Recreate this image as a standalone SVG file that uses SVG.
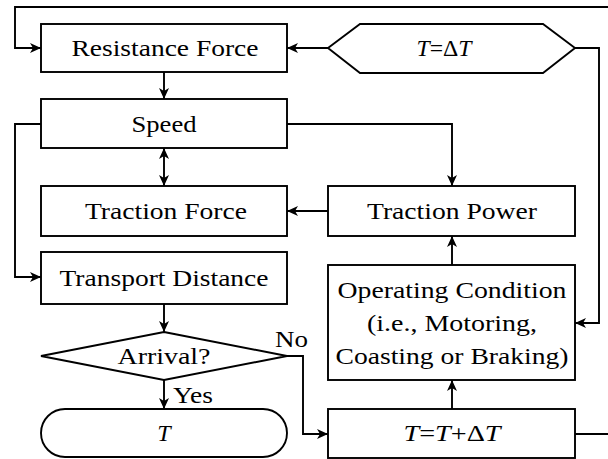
<svg xmlns="http://www.w3.org/2000/svg" width="608" height="459" viewBox="0 0 608 459">
  <defs>
    <marker id="arrow" markerUnits="userSpaceOnUse" markerWidth="14" markerHeight="12" refX="11" refY="5" orient="auto-start-reverse" overflow="visible">
      <path d="M0,0 L11,5 L0,10 L3,5 Z" fill="#000"/>
    </marker>
  </defs>
  <style>
    .box { fill: #fff; stroke: #000; stroke-width: 1.9; }
    .wire { fill: none; stroke: #000; stroke-width: 1.9; }
    .arr { marker-end: url(#arrow); }
    .it { font-style: italic; }
  </style>
  <rect width="608" height="459" fill="#fff"/>

  <g font-family="Liberation Serif, Times New Roman, serif" font-size="24" text-anchor="middle" fill="#000">

  <!-- connectors -->
  <g id="connectors">
    <!-- outer loop back to Resistance Force -->
    <polyline class="wire arr" points="608,7 15,7 15,48 41,48"/>
    <!-- T=ΔT into Resistance Force -->
    <line class="wire arr" x1="328" y1="48" x2="287" y2="48"/>
    <!-- T=ΔT into Operating Condition -->
    <polyline class="wire arr" points="575,48 599,48 599,323 575,323"/>
    <!-- Resistance Force to Speed -->
    <line class="wire arr" x1="164" y1="72" x2="164" y2="99"/>
    <!-- Speed to Traction Power -->
    <polyline class="wire arr" points="287,124 452,124 452,186"/>
    <!-- Speed to Transport Distance -->
    <polyline class="wire arr" points="41,124 15,124 15,277 41,277"/>
    <!-- Speed <-> Traction Force -->
    <line class="wire arr" x1="164" y1="148" x2="164" y2="186" style="marker-start:url(#arrow)"/>
    <!-- Traction Power to Traction Force -->
    <line class="wire arr" x1="328" y1="211" x2="287" y2="211"/>
    <!-- Operating Condition to Traction Power -->
    <line class="wire arr" x1="452" y1="265" x2="452" y2="236"/>
    <!-- T=T+ΔT to Operating Condition -->
    <line class="wire arr" x1="452" y1="409" x2="452" y2="380"/>
    <!-- Transport Distance to Arrival? -->
    <line class="wire arr" x1="164" y1="304" x2="164" y2="332"/>
    <!-- Yes branch -->
    <line class="wire arr" x1="164" y1="380" x2="164" y2="409"/>
    <!-- No branch -->
    <polyline class="wire arr" points="287,356 303,356 303,434 328,434"/>
    <!-- T=T+ΔT continues the loop -->
    <line class="wire" x1="575" y1="434" x2="608" y2="434"/>
    <text text-anchor="start" x="173" y="403" textLength="40" lengthAdjust="spacingAndGlyphs">Yes</text>
    <text text-anchor="start" x="275" y="347" textLength="33" lengthAdjust="spacingAndGlyphs">No</text>
  </g>

  <g id="resistance-force">
    <rect class="box" x="41" y="24" width="246" height="48"/>
    <text x="165" y="56" textLength="187" lengthAdjust="spacingAndGlyphs">Resistance Force</text>
  </g>

  <g id="t-init">
    <polygon class="box" points="328,48 360,24 543,24 575,48 543,73 360,73"/>
    <text x="444" y="56" textLength="55" lengthAdjust="spacingAndGlyphs"><tspan class="it">T</tspan>=Δ<tspan class="it">T</tspan></text>
  </g>

  <g id="speed">
    <rect class="box" x="41" y="99" width="246" height="49"/>
    <text x="164" y="132" textLength="65" lengthAdjust="spacingAndGlyphs">Speed</text>
  </g>

  <g id="traction-force">
    <rect class="box" x="41" y="186" width="246" height="50"/>
    <text x="166" y="219" textLength="162" lengthAdjust="spacingAndGlyphs">Traction Force</text>
  </g>

  <g id="traction-power">
    <rect class="box" x="328" y="186" width="247" height="50"/>
    <text x="452" y="219" textLength="170" lengthAdjust="spacingAndGlyphs">Traction Power</text>
  </g>

  <g id="transport-distance">
    <rect class="box" x="41" y="252" width="246" height="52"/>
    <text x="164" y="286" textLength="209" lengthAdjust="spacingAndGlyphs">Transport Distance</text>
  </g>

  <g id="operating-condition">
    <rect class="box" x="328" y="265" width="247" height="115"/>
    <text x="452" y="298" textLength="229" lengthAdjust="spacingAndGlyphs">Operating Condition</text>
    <text x="452" y="331" textLength="170" lengthAdjust="spacingAndGlyphs">(i.e., Motoring,</text>
    <text x="452" y="364" textLength="233" lengthAdjust="spacingAndGlyphs">Coasting or Braking)</text>
  </g>

  <g id="arrival">
    <polygon class="box" points="164,332 287,356 164,380 41,356"/>
    <text x="164" y="364" textLength="93" lengthAdjust="spacingAndGlyphs">Arrival?</text>
  </g>

  <g id="result">
    <rect class="box" x="41" y="409" width="246" height="48" rx="24" ry="24"/>
    <text class="it" x="164" y="441">T</text>
  </g>

  <g id="t-step">
    <rect class="box" x="328" y="409" width="247" height="49"/>
    <text x="452" y="441" textLength="97" lengthAdjust="spacingAndGlyphs"><tspan class="it">T</tspan>=<tspan class="it">T</tspan>+Δ<tspan class="it">T</tspan></text>
  </g>

  </g>
</svg>
